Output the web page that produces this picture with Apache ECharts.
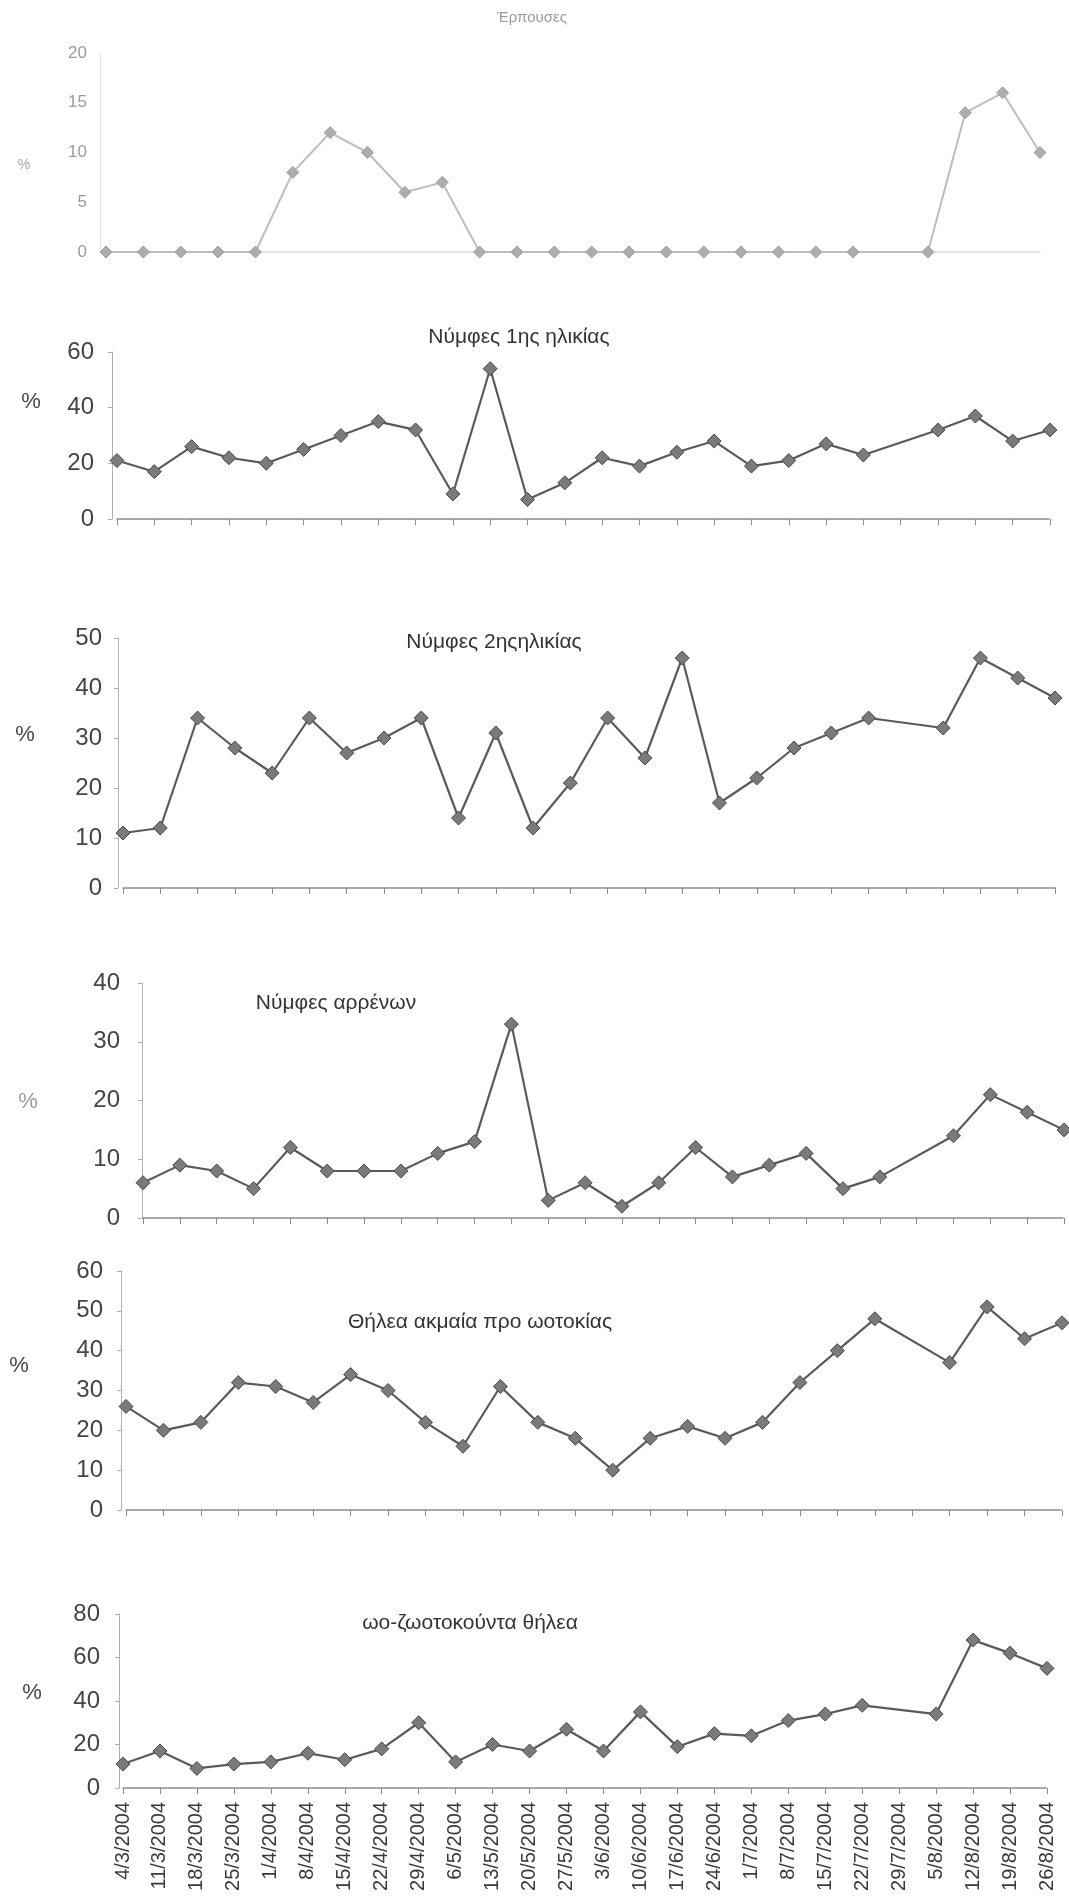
<!DOCTYPE html>
<html>
<head>
<meta charset="utf-8">
<title>Πληθυσμός ανά στάδιο</title>
<script src="https://cdn.jsdelivr.net/npm/echarts@6/dist/echarts.min.js"></script>
<style>
html, body { margin: 0; padding: 0; background: #fff; }
#chart { width: 1069px; height: 1899px; }
</style>
</head>
<body>
<div id="chart"></div>
<script>
// dates of sampling (x axis, shared by all panels)
const dates = ['4/3/2004', '11/3/2004', '18/3/2004', '25/3/2004', '1/4/2004', '8/4/2004', '15/4/2004',
    '22/4/2004', '29/4/2004', '6/5/2004', '13/5/2004', '20/5/2004', '27/5/2004', '3/6/2004', '10/6/2004',
    '17/6/2004', '24/6/2004', '1/7/2004', '8/7/2004', '15/7/2004', '22/7/2004', '29/7/2004', '5/8/2004',
    '12/8/2004', '19/8/2004', '26/8/2004'];

// % per stage (29/7 has no sample)
const erpouses   = [0, 0, 0, 0, 0, 8, 12, 10, 6, 7, 0, 0, 0, 0, 0, 0, 0, 0, 0, 0, 0, null, 0, 14, 16, 10];
const nymfes1    = [21, 17, 26, 22, 20, 25, 30, 35, 32, 9, 54, 7, 13, 22, 19, 24, 28, 19, 21, 27, 23, null, 32, 37, 28, 32];
const nymfes2    = [11, 12, 34, 28, 23, 34, 27, 30, 34, 14, 31, 12, 21, 34, 26, 46, 17, 22, 28, 31, 34, null, 32, 46, 42, 38];
const arrenes    = [6, 9, 8, 5, 12, 8, 8, 8, 11, 13, 33, 3, 6, 2, 6, 12, 7, 9, 11, 5, 7, null, 14, 21, 18, 15];
const thileaAkm  = [26, 20, 22, 32, 31, 27, 34, 30, 22, 16, 31, 22, 18, 10, 18, 21, 18, 22, 32, 40, 48, null, 37, 51, 43, 47];
const ootokounta = [11, 17, 9, 11, 12, 16, 13, 18, 30, 12, 20, 17, 27, 17, 35, 19, 25, 24, 31, 34, 38, null, 34, 68, 62, 55];

// y axis ranges
const yMax      = [20, 60, 50, 40, 60, 80];
const yInterval = [5, 20, 10, 10, 10, 20];

const titles = ['Έρπουσες', 'Νύμφες 1ης ηλικίας', 'Νύμφες 2ηςηλικίας', 'Νύμφες αρρένων',
    'Θήλεα ακμαία προ ωοτοκίας', 'ωο-ζωοτοκούντα θήλεα'];
const seriesData = [erpouses, nymfes1, nymfes2, arrenes, thileaAkm, ootokounta];

// panel placement on the page (pixels)
const layout = [
    {x0: 106, x1: 1040, yTop: 53,   yZero: 252,  axisOff: 6, labelGap: 13, title: [532, 18],   pct: [24, 165],  faint: true},
    {x0: 117, x1: 1050, yTop: 352,  yZero: 519,  axisOff: 5, labelGap: 18, title: [519, 337],  pct: [31, 402]},
    {x0: 123, x1: 1055, yTop: 638,  yZero: 888,  axisOff: 5, labelGap: 16, title: [494, 642],  pct: [25, 735]},
    {x0: 143, x1: 1064, yTop: 983,  yZero: 1218, axisOff: 1, labelGap: 22, title: [336, 1003], pct: [28, 1102], blurPct: true},
    {x0: 126, x1: 1062, yTop: 1271, yZero: 1510, axisOff: 5, labelGap: 18, title: [480, 1322], pct: [19, 1366]},
    {x0: 123, x1: 1047, yTop: 1614, yZero: 1788, axisOff: 4, labelGap: 19, title: [470, 1623], pct: [32, 1693], dates: true}
];

const FONT = '"Liberation Sans", Arial, sans-serif';
const W = 1069;

const chart = echarts.init(document.getElementById('chart'));

let grids = [], xAxes = [], yAxes = [], series = [], graphics = [];

layout.forEach(function (p, i) {
    const faint = !!p.faint;
    grids.push({
        left: p.x0,
        right: W - p.x1,
        top: p.yTop,
        height: p.yZero - p.yTop,
        containLabel: false
    });
    xAxes.push({
        type: 'category',
        gridIndex: i,
        data: dates,
        boundaryGap: false,
        axisLine: {
            show: true,
            lineStyle: {color: faint ? '#dddddd' : '#8a8a8a', width: 1.5, type: [2, 1]}
        },
        axisTick: {
            show: !faint,
            interval: 0,
            length: 6,
            lineStyle: {color: '#8a8a8a'}
        },
        axisLabel: {
            show: !!p.dates,
            interval: 0,
            rotate: 90,
            margin: 14,
            fontSize: 20,
            fontFamily: FONT,
            color: '#3a3a3a'
        },
        splitLine: {show: false}
    });
    yAxes.push({
        type: 'value',
        gridIndex: i,
        min: 0,
        max: yMax[i],
        interval: yInterval[i],
        offset: p.axisOff,
        axisLine: {show: true, lineStyle: {color: faint ? '#e6e6e6' : '#b0b0b0'}},
        axisTick: {show: !faint, length: 4, lineStyle: {color: '#b0b0b0'}},
        axisLabel: {
            margin: p.labelGap,
            fontSize: faint ? 17 : 24,
            fontFamily: FONT,
            color: faint ? '#9a9a9a' : '#444444'
        },
        splitLine: {show: false}
    });
    series.push({
        type: 'line',
        xAxisIndex: i,
        yAxisIndex: i,
        data: seriesData[i],
        connectNulls: true,
        symbol: 'diamond',
        symbolSize: faint ? 12 : 14,
        lineStyle: {color: faint ? '#bdbdbd' : '#5a5a5a', width: faint ? 2 : 2.2},
        itemStyle: {
            color: faint ? '#adadad' : '#7a7a7a',
            borderColor: faint ? '#a0a0a0' : '#4a4a4a',
            borderWidth: 1
        },
        animation: false
    });
    graphics.push({
        type: 'text',
        x: p.title[0],
        y: p.title[1],
        style: {
            text: titles[i],
            fontSize: faint ? 15 : 21,
            fontFamily: FONT,
            fill: faint ? '#9a9a9a' : '#333333',
            textAlign: 'center',
            textVerticalAlign: 'middle'
        }
    });
    graphics.push({
        type: 'text',
        x: p.pct[0],
        y: p.pct[1],
        style: {
            text: '%',
            fontSize: faint ? 14 : 22,
            fontFamily: FONT,
            fill: faint ? '#aaaaaa' : (p.blurPct ? '#9a9a9a' : '#444444'),
            textAlign: 'center',
            textVerticalAlign: 'middle'
        }
    });
});

chart.setOption({
    backgroundColor: '#ffffff',
    animation: false,
    grid: grids,
    xAxis: xAxes,
    yAxis: yAxes,
    series: series,
    graphic: graphics
});
</script>
</body>
</html>
